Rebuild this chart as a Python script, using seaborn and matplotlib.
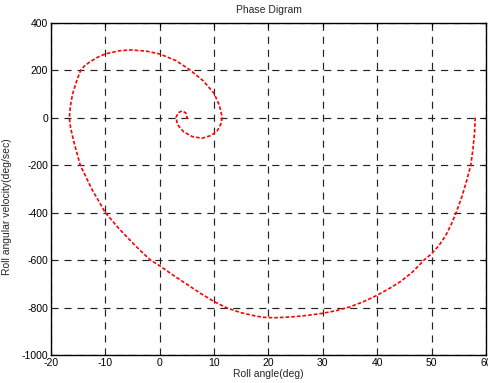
"""
Phase diagram (roll angle vs roll rate), MATLAB-style look
"""
import numpy as np
import pandas as pd
import matplotlib
matplotlib.use('Agg')
import matplotlib.pyplot as plt
import seaborn as sns

# points, in trajectory order
roll_angle = [58.0, 57.9, 57.6, 57.2, 56.5, 55.6, 54.5, 53.6, 52.5, 51.3,
              50.0, 48.6, 46.5, 44.3, 42.5, 40.0, 37.5, 35.0, 32.5, 30.0,
              27.5, 25.0, 23.0, 21.0, 19.0, 17.5, 15.0, 12.5, 10.0, 7.5,
              5.0, 2.5, 0.0, -1.7, -3.6, -5.0, -7.5, -10.0, -12.5, -14.6,
              -15.8, -16.4, -16.6, -16.4, -16.0, -15.6, -15.1, -14.5, -13.8, -12.8,
              -11.5, -10.0, -7.5, -5.4, -2.5, 0.0, 3.0, 5.6, 8.0, 10.0,
              11.0, 11.5, 11.2, 10.6, 9.5, 7.8, 6.0, 4.4, 3.3, 3.0,
              3.4, 4.1, 4.8, 5.0, 5.0, 5.3]
roll_rate = [0, -60, -130, -200, -260, -330, -400, -450, -500, -540,
             -573, -600, -650, -690, -716, -748, -775, -797, -813, -824,
             -832, -838, -841, -843, -841, -835, -822, -803, -775, -740,
             -702, -664, -624, -600, -559, -527, -467, -400, -300, -200,
             -100, -40, 0, 50, 100, 130, 165, 200, 218, 235,
             253, 268, 281, 285, 280, 268, 240, 200, 155, 102,
             50, 0, -30, -55, -75, -87, -80, -60, -30, 0,
             20, 28, 20, 5, -3, 0]

x_ticks = [-20, -10, 0, 10, 20, 30, 40, 50, 60]
y_ticks = [-1000, -800, -600, -400, -200, 0, 200, 400]

sns.set_style('white')
plt.rcParams['font.family'] = ['Liberation Sans', 'DejaVu Sans']
plt.rcParams['axes.unicode_minus'] = False

df = pd.DataFrame({'angle': roll_angle, 'rate': roll_rate})

fig = plt.figure(figsize=(4.89, 3.83), dpi=100)
ax = fig.add_axes([0.104, 0.073, 0.890, 0.868])

sns.lineplot(data=df, x='angle', y='rate', sort=False, estimator=None,
             ax=ax, color='red', linewidth=1.2, linestyle=(0, (2.2, 1.2)))

ax.set_xlim(-20, 60)
ax.set_ylim(-1000, 400)
ax.set_xticks(x_ticks)
ax.set_yticks(y_ticks)
ax.tick_params(axis='both', direction='in', length=3, width=0.8,
               labelsize=7.5, top=True, right=True, pad=2, colors='black')
ax.grid(True, color='#222222', linestyle=(0, (6, 5)), linewidth=0.85)

for sp in ax.spines.values():
    sp.set_color('black')
    sp.set_linewidth(1.0)

ax.set_title('Phase Digram', fontsize=7.5, pad=7)
ax.set_xlabel('Roll angle(deg)', fontsize=7.5, labelpad=1)
ax.set_ylabel('Roll angular velocity(deg/sec)', fontsize=7.5)
ax.yaxis.set_label_coords(-0.09, 0.445)

fig.savefig('out.png', dpi=100, facecolor='white')
plt.close(fig)
